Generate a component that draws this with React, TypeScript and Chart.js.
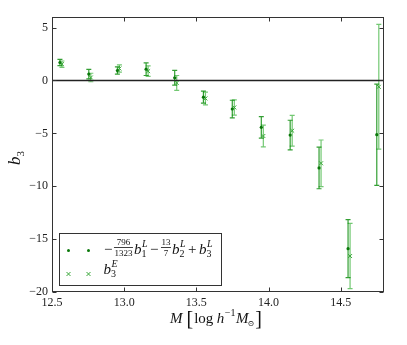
import React, { useEffect, useRef } from 'react';
import { Chart, registerables } from 'chart.js';
Chart.register(...registerables);

// ---- data ----
const xDot = [12.555, 12.755, 12.953, 13.152, 13.35, 13.549, 13.749, 13.95, 14.15, 14.35, 14.551, 14.75];
const yDot = [1.7, 0.6, 0.94, 1.07, 0.25, -1.58, -2.7, -4.43, -5.16, -8.27, -15.9, -5.13];
const errDot = [0.3, 0.45, 0.35, 0.6, 0.7, 0.57, 0.83, 1.02, 1.4, 1.97, 2.75, 4.78];

const xCross = [12.569, 12.769, 12.967, 13.166, 13.364, 13.563, 13.763, 13.964, 14.164, 14.364, 14.565, 14.764];
const yCross = [1.54, 0.28, 1.13, 0.88, -0.23, -1.7, -2.55, -5.25, -4.75, -7.83, -16.6, -0.6];
const errCross = [0.3, 0.4, 0.35, 0.5, 0.7, 0.6, 0.72, 1.02, 1.45, 2.2, 3.08, 5.9];

const xTicks = [12.5, 13.0, 13.5, 14.0, 14.5];
const yTicks = [-20, -15, -10, -5, 0, 5];
const xRange = [12.5, 14.8];
const yRange = [-20, 6];

const SERIF = '"Liberation Serif", "DejaVu Serif", serif';
const fnt = (size: number, italic = false) => `${italic ? 'italic ' : ''}${size}px ${SERIF}`;

const DOT_COLOR = '#0a780a';
const CROSS_COLOR = '#3aa83a';
const DOT_ERR = 'rgba(0,135,0,0.8)';
const CROSS_ERR = 'rgba(40,170,40,0.65)';

function txt(ctx: CanvasRenderingContext2D, s: string, x: number, y: number, size: number, italic = false) {
  ctx.font = fnt(size, italic);
  ctx.fillText(s, x, y);
  return ctx.measureText(s).width;
}

function frac(ctx: CanvasRenderingContext2D, num: string, den: string, x: number, B: number) {
  ctx.font = fnt(9);
  const w = Math.max(ctx.measureText(num).width, ctx.measureText(den).width) + 1;
  ctx.textAlign = 'center';
  ctx.fillText(num, x + w / 2, B - 9);
  ctx.fillText(den, x + w / 2, B + 1.5);
  ctx.textAlign = 'left';
  ctx.fillRect(x, B - 6.8, w, 0.8);
  return w;
}

function bss(ctx: CanvasRenderingContext2D, base: string, sup: string, sub: string, x: number, B: number, size = 15) {
  const wb = txt(ctx, base, x, B, size, true);
  const ws = txt(ctx, sup, x + wb + 0.5, B - 7.5, 10, true);
  const wu = txt(ctx, sub, x + wb, B + 3, 10, false);
  return wb + Math.max(ws + 0.5, wu);
}

const errorBarPlugin = {
  id: 'errbars',
  beforeDatasetsDraw(chart: any) {
    const ctx = chart.ctx as CanvasRenderingContext2D;
    const xs = chart.scales.x, ys = chart.scales.y;
    const sets = [
      { x: xCross, y: yCross, e: errCross, c: CROSS_ERR },
      { x: xDot, y: yDot, e: errDot, c: DOT_ERR },
    ];
    ctx.save();
    ctx.lineWidth = 1.2;
    for (const s of sets) {
      ctx.strokeStyle = s.c;
      for (let i = 0; i < s.x.length; i++) {
        const px = xs.getPixelForValue(s.x[i]);
        const p1 = ys.getPixelForValue(s.y[i] + s.e[i]);
        const p2 = ys.getPixelForValue(s.y[i] - s.e[i]);
        ctx.beginPath();
        ctx.moveTo(px, p1); ctx.lineTo(px, p2);
        ctx.moveTo(px - 2.5, p1); ctx.lineTo(px + 2.5, p1);
        ctx.moveTo(px - 2.5, p2); ctx.lineTo(px + 2.5, p2);
        ctx.stroke();
      }
    }
    ctx.restore();
  },
};

const framePlugin = {
  id: 'frame',
  afterDraw(chart: any) {
    const ctx = chart.ctx as CanvasRenderingContext2D;
    const a = chart.chartArea;
    const xs = chart.scales.x, ys = chart.scales.y;
    ctx.save();
    ctx.strokeStyle = '#333';
    ctx.lineWidth = 1;
    const L = Math.round(a.left) + 0.5, R = Math.round(a.right) - 0.5;
    const T = Math.round(a.top) + 0.5, Bt = Math.round(a.bottom) - 0.5;
    ctx.strokeRect(L, T, R - L, Bt - T);
    ctx.beginPath();
    for (const v of xTicks) {
      const px = Math.round(xs.getPixelForValue(v)) + 0.5;
      ctx.moveTo(px, Bt); ctx.lineTo(px, Bt - 4);
      ctx.moveTo(px, T); ctx.lineTo(px, T + 4);
    }
    for (const v of yTicks) {
      const py = Math.round(ys.getPixelForValue(v)) + 0.5;
      ctx.moveTo(L, py); ctx.lineTo(L + 4, py);
      ctx.moveTo(R, py); ctx.lineTo(R - 4, py);
    }
    ctx.stroke();

    // legend
    ctx.fillStyle = '#fff';
    ctx.fillRect(59.5, 233.5, 162, 52);
    ctx.strokeStyle = '#333';
    ctx.strokeRect(59.5, 233.5, 162, 52);
    ctx.fillStyle = DOT_COLOR;
    for (const mx of [68.5, 88.5]) {
      ctx.beginPath(); ctx.arc(mx, 250.5, 1.5, 0, Math.PI * 2); ctx.fill();
    }
    ctx.strokeStyle = CROSS_COLOR;
    ctx.beginPath();
    for (const mx of [68.5, 88.5]) {
      ctx.moveTo(mx - 2, 272); ctx.lineTo(mx + 2, 276);
      ctx.moveTo(mx - 2, 276); ctx.lineTo(mx + 2, 272);
    }
    ctx.stroke();

    ctx.fillStyle = '#111';
    ctx.textBaseline = 'alphabetic';
    ctx.textAlign = 'left';
    let B = 254;
    let x = 104;
    x += txt(ctx, '−', x, B, 15) + 1.5;
    x += frac(ctx, '796', '1323', x, B) + 1;
    x += bss(ctx, 'b', 'L', '1', x, B) + 2.5;
    x += txt(ctx, '−', x, B, 15) + 2.5;
    x += frac(ctx, '13', '7', x, B) + 1;
    x += bss(ctx, 'b', 'L', '2', x, B) + 2.5;
    x += txt(ctx, '+', x, B, 15) + 2.5;
    bss(ctx, 'b', 'L', '3', x, B);
    B = 274;
    bss(ctx, 'b', 'E', '3', 103.5, B);

    // x axis title
    B = 323;
    x = 170;
    x += txt(ctx, 'M', x, B, 15, true) + 4;
    x += txt(ctx, '[', x, B + 2, 20) + 1;
    x += txt(ctx, 'log', x, B, 15) + 3.5;
    x += txt(ctx, 'h', x, B, 15, true) + 0.5;
    x += txt(ctx, '−1', x, B - 7, 10) + 0.5;
    const wm = txt(ctx, 'M', x, B, 15, true);
    const wo = txt(ctx, '⊙', x + wm - 1, B + 3, 8);
    x += wm - 1 + wo + 1;
    txt(ctx, ']', x, B + 2, 20);

    // y axis title
    ctx.save();
    ctx.translate(20, 165);
    ctx.rotate(-Math.PI / 2);
    const wb = txt(ctx, 'b', 0, 0, 17, true);
    txt(ctx, '3', wb, 4, 11);
    ctx.restore();

    ctx.restore();
  },
};

export default function App() {
  const ref = useRef<HTMLCanvasElement>(null);
  useEffect(() => {
    document.body.style.margin = '0';
    Chart.defaults.font.family = SERIF;
    const canvas = ref.current!;
    const tickFont = { family: SERIF, size: 12 };
    const chart = new Chart(canvas, {
      type: 'scatter',
      data: {
        datasets: [
          {
            type: 'line',
            data: [{ x: xRange[0], y: 0 }, { x: xRange[1], y: 0 }],
            borderColor: '#222',
            borderWidth: 1.6,
            pointRadius: 0,
            order: 10,
          } as any,
          {
            data: xDot.map((v, i) => ({ x: v, y: yDot[i] })),
            pointStyle: 'circle',
            pointRadius: 1.6,
            backgroundColor: DOT_COLOR,
            borderColor: DOT_COLOR,
            borderWidth: 0,
            order: 1,
          },
          {
            data: xCross.map((v, i) => ({ x: v, y: yCross[i] })),
            pointStyle: 'crossRot',
            pointRadius: 2.8,
            borderColor: CROSS_COLOR,
            backgroundColor: CROSS_COLOR,
            borderWidth: 1,
            order: 2,
          },
        ],
      },
      options: {
        responsive: false,
        animation: false,
        devicePixelRatio: 1,
        layout: { padding: { top: 17, right: 23, left: 0, bottom: 0 } },
        plugins: { legend: { display: false }, tooltip: { enabled: false } },
        scales: {
          x: {
            type: 'linear',
            min: xRange[0],
            max: xRange[1],
            grid: { display: false, drawTicks: false },
            border: { display: false },
            afterBuildTicks: (s: any) => { s.ticks = xTicks.map((v) => ({ value: v })); },
            afterFit: (s: any) => { s.height = 53; },
            ticks: {
              font: tickFont,
              color: '#222',
              padding: 4,
              maxRotation: 0,
              autoSkip: false,
              callback: (v: any) => Number(v).toFixed(1),
            },
          },
          y: {
            type: 'linear',
            min: yRange[0],
            max: yRange[1],
            grid: { display: false, drawTicks: false },
            border: { display: false },
            afterBuildTicks: (s: any) => { s.ticks = yTicks.map((v) => ({ value: v })); },
            afterFit: (s: any) => { s.width = 52; },
            ticks: {
              font: tickFont,
              color: '#222',
              padding: 4,
              autoSkip: false,
              callback: (v: any) => (Number(v) < 0 ? '−' + Math.abs(Number(v)) : String(v)),
            },
          },
        },
      },
      plugins: [errorBarPlugin, framePlugin],
    } as any);
    return () => chart.destroy();
  }, []);
  return <canvas ref={ref} width={407} height={345} style={{ display: 'block', width: 407, height: 345 }} />;
}
